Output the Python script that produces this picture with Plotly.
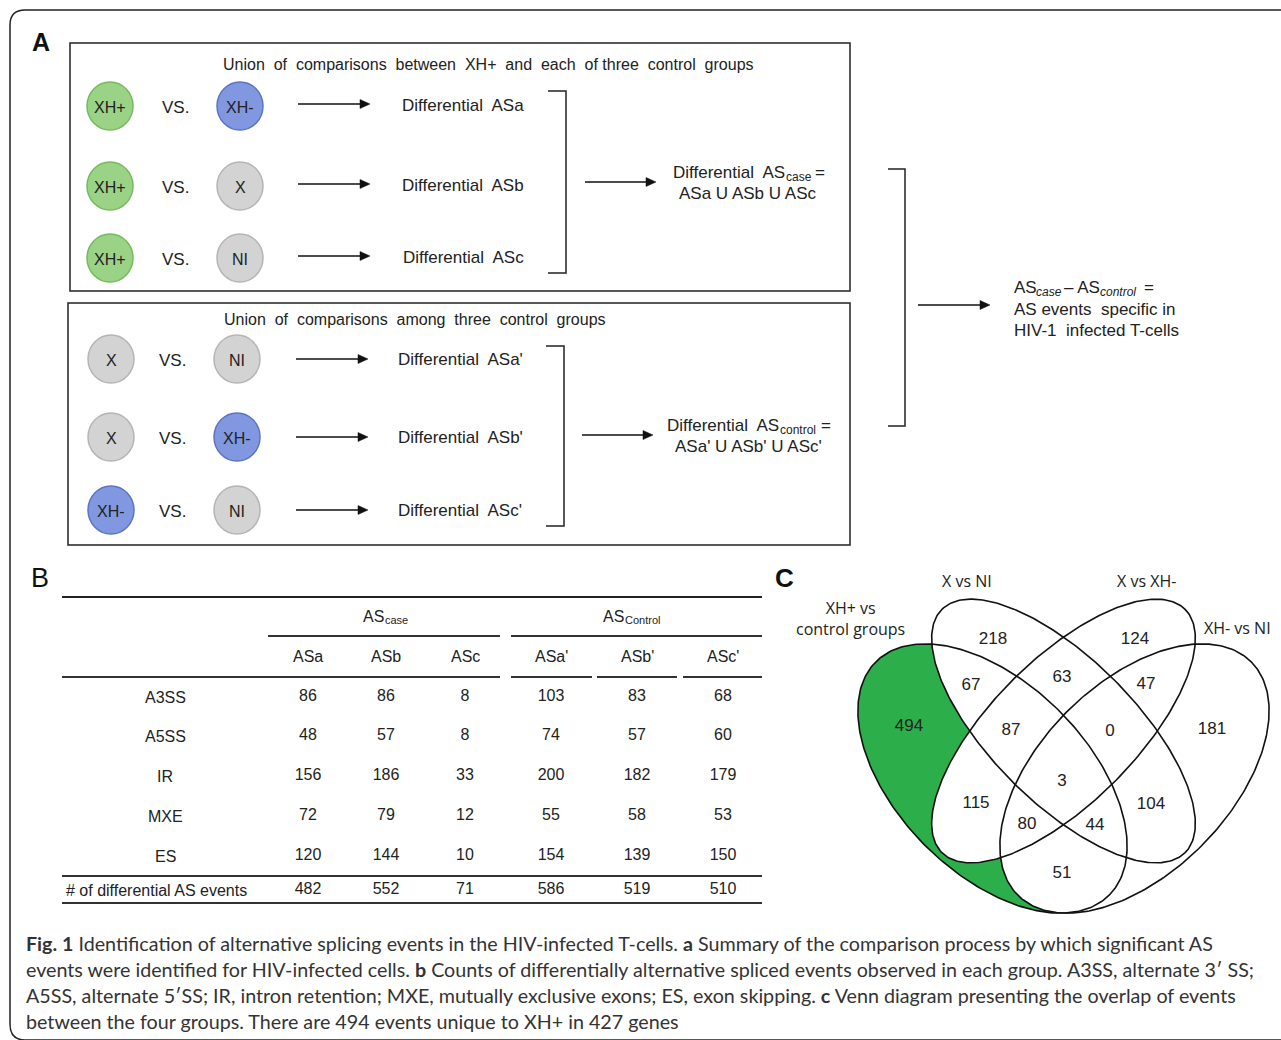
import numpy as np
import plotly.graph_objects as go

# ---------------- data ----------------
event_types = ["A3SS", "A5SS", "IR", "MXE", "ES"]
total_label = "# of differential AS events"
case_cols = ["ASa", "ASb", "ASc"]
control_cols = ["ASa'", "ASb'", "ASc'"]
asa = [86, 48, 156, 72, 120]
asb = [86, 57, 186, 79, 144]
asc = [8, 8, 33, 12, 10]
asa_p = [103, 74, 200, 55, 154]
asb_p = [83, 57, 182, 58, 139]
asc_p = [68, 60, 179, 53, 150]
totals = [482, 552, 71, 586, 519, 510]

venn_sets = ["XH+ vs<br>control groups", "X vs NI", "X vs XH-", "XH- vs NI"]
venn_regions = ["A", "B", "C", "D", "AB", "BC", "CD", "ABC", "BCD",
                "AC", "BD", "ABCD", "ACD", "ABD", "AD"]
venn_counts = [494, 218, 124, 181, 67, 63, 47, 87, 0, 115, 104, 3, 80, 44, 51]

# ---------------- layout helpers ----------------
W, H = 1281, 1040
FONT = "Liberation Sans, Arial, sans-serif"
TXT = "#222222"

fig = go.Figure()
shapes = []
annotations = []


def text(x, y, s, size=16, anchor="center", color=TXT, family=FONT, weight="normal", style="normal"):
    annotations.append(dict(x=x, y=y, xref="x", yref="y", text=s, showarrow=False,
                            xanchor=anchor, yanchor="middle", borderpad=0,
                            font=dict(size=size, color=color, family=family,
                                      weight=weight, style=style)))


def arrow(x0, x1, y):
    shapes.append(dict(type="line", x0=x0, y0=y, x1=x1 - 6, y1=y, xref="x", yref="y",
                       line=dict(color="#111111", width=1.5)))
    shapes.append(dict(type="path", path=f"M {x1},{y} L {x1-10},{y-4.5} L {x1-10},{y+4.5} Z",
                       xref="x", yref="y", fillcolor="#111111", line=dict(color="#111111", width=0.5)))


def line(x0, y0, x1, y1, w=1.8, c="#333333"):
    shapes.append(dict(type="line", x0=x0, y0=y0, x1=x1, y1=y1, xref="x", yref="y",
                       line=dict(color=c, width=w)))


def path(p, w=1.5, c="#222222"):
    shapes.append(dict(type="path", path=p, xref="x", yref="y", line=dict(color=c, width=w)))


COL = {
    "g": ("#9ad386", "#74bb5d"),
    "b": ("#8198e0", "#5a74c6"),
    "x": ("#d3d3d3", "#b5b5b5"),
}


def node(cx, cy, label, kind):
    fill, edge = COL[kind]
    shapes.append(dict(type="circle", x0=cx - 23, x1=cx + 23, y0=cy - 24, y1=cy + 24,
                       xref="x", yref="y", fillcolor=fill, line=dict(color=edge, width=1.5)))
    text(cx, cy + 1, label, size=16)


# ---------------- outer frame ----------------
path("M 1295,10 H 25 Q 10,10 10,25 V 1024 Q 10,1040 25,1040 H 1295", w=1.5, c="#222222")

# ---------------- panel A ----------------
text(41, 42, "A", size=25, color="#111111", weight="bold")
shapes.append(dict(type="rect", x0=70, y0=43, x1=850, y1=291, xref="x", yref="y",
                   line=dict(color="#222222", width=1.5)))
shapes.append(dict(type="rect", x0=68, y0=303, x1=850, y1=545, xref="x", yref="y",
                   line=dict(color="#222222", width=1.5)))

text(488, 64, "Union  of  comparisons  between  XH+  and  each  of three  control  groups", size=16)
text(415, 319, "Union  of  comparisons  among  three  control  groups", size=16)

rows1 = [106, 186, 258]
pairs1 = [("XH+", "g", "XH-", "b"), ("XH+", "g", "X", "x"), ("XH+", "g", "NI", "x")]
outs1 = ["Differential  ASa", "Differential  ASb", "Differential  ASc"]
for yy, (l1, k1, l2, k2), o in zip(rows1, pairs1, outs1):
    node(110, yy, l1, k1)
    node(240, yy, l2, k2)
    text(175, yy + 1, "VS.", size=17)
    arrow(298, 370, yy - 2)
    text(463, yy - 1, o, size=17)
path("M 548,91 H 566 V 273 H 548")
arrow(585, 656, 182)
text(786, 172, "Differential  AS", size=17, anchor="right")
text(785, 177, "case", size=12, anchor="left")
text(814, 172, "=", size=17, anchor="left")
text(748, 193, "ASa U ASb U ASc", size=17)

rows2 = [359, 437, 510]
pairs2 = [("X", "x", "NI", "x"), ("X", "x", "XH-", "b"), ("XH-", "b", "NI", "x")]
outs2 = ["Differential  ASa'", "Differential  ASb'", "Differential  ASc'"]
for yy, (l1, k1, l2, k2), o in zip(rows2, pairs2, outs2):
    node(111, yy, l1, k1)
    node(237, yy, l2, k2)
    text(172, yy + 1, "VS.", size=17)
    arrow(296, 368, yy)
    text(460, yy, o, size=17)
path("M 546,346 H 564 V 526 H 546")
arrow(582, 653, 435)
text(780, 425, "Differential  AS", size=17, anchor="right")
text(779, 430, "control", size=12, anchor="left")
text(820, 425, "=", size=17, anchor="left")
text(748, 446, "ASa' U ASb' U ASc'", size=17)

path("M 888,169 H 905 V 426 H 888")
arrow(918, 990, 305)
text(1013, 287, "AS", size=17, anchor="left")
text(1035, 292, "case", size=12, anchor="left", style="italic")
text(1063, 287, "– AS", size=17, anchor="left")
text(1099, 292, "control", size=12, anchor="left", style="italic")
text(1143, 287, "=", size=17, anchor="left")
text(1013, 309, "AS events  specific in", size=17, anchor="left")
text(1013, 330, "HIV-1  infected T-cells", size=17, anchor="left")

# ---------------- panel B (table) ----------------
text(40, 578, "B", size=27, color="#111111")
line(62, 597, 762, 597, w=2, c="#222222")
text(385, 616, "AS", size=16, anchor="right")
text(384, 620, "case", size=11, anchor="left")
text(625, 616, "AS", size=16, anchor="right")
text(624, 620, "Control", size=11, anchor="left")
line(268, 636, 500, 636)
line(511, 636, 762, 636)
col_x = [308, 386, 465, 551, 637, 723]
for cx, cname in zip(col_x, case_cols + control_cols):
    text(cx, 656, cname, size=16)
for x0, x1 in [(62, 500), (511, 592), (597, 677), (683, 762)]:
    line(x0, 677, x1, 677)
row_y = [697, 736, 776, 816, 856]
for ry, et in zip(row_y, event_types):
    text(165, ry, et, size=16)
line(62, 876, 762, 876, w=2.2)
text(65, 890, total_label, size=16, anchor="left")
line(62, 903, 762, 903, w=2)

table_cols = [asa, asb, asc, asa_p, asb_p, asc_p]
tx, ty, tt = [], [], []
for cx, vals, tot in zip(col_x, table_cols, totals):
    for ry, v in zip(row_y, vals):
        tx.append(cx); ty.append(ry); tt.append(str(v))
    tx.append(cx); ty.append(890); tt.append(str(tot))
fig.add_trace(go.Scatter(x=tx, y=ty, text=tt, mode="text", hoverinfo="skip",
                         textfont=dict(size=16, color=TXT, family=FONT), showlegend=False))

# ---------------- panel C (Venn) ----------------
text(784, 578, "C", size=26, color="#111111", weight="bold")
set_label_pos = [(850, 618), (967, 581), (1146, 581), (1237, 628)]
for (lx, ly), lab in zip(set_label_pos, venn_sets):
    text(lx, ly, lab, size=16, family="Open Sans, Liberation Sans, sans-serif")

ell = {
    "A": (992.5, 778.5, 165, 95, 45),
    "B": (1063.5, 731, 172, 72, 45),
    "C": (1063.5, 731, 172, 72, -45),
    "D": (1134.5, 778.5, 165, 95, -45),
}


def ellipse_pts(cx, cy, a, b, deg, n=300):
    t = np.linspace(0, 2 * np.pi, n)
    th = np.radians(deg)
    x = cx + a * np.cos(t) * np.cos(th) - b * np.sin(t) * np.sin(th)
    y = cy + a * np.cos(t) * np.sin(th) + b * np.sin(t) * np.cos(th)
    return x, y


ax_, ay_ = ellipse_pts(*ell["A"])
fig.add_trace(go.Scatter(x=ax_, y=ay_, mode="lines", fill="toself", fillcolor="#2cae4a",
                         line=dict(width=0), hoverinfo="skip", showlegend=False))
for k in ["B", "C", "D"]:
    ex, ey = ellipse_pts(*ell[k])
    fig.add_trace(go.Scatter(x=ex, y=ey, mode="lines", fill="toself", fillcolor="white",
                             line=dict(width=0), hoverinfo="skip", showlegend=False))
for k in ["A", "B", "C", "D"]:
    ex, ey = ellipse_pts(*ell[k])
    fig.add_trace(go.Scatter(x=ex, y=ey, mode="lines", line=dict(color="#111111", width=1.6),
                             hoverinfo="skip", showlegend=False))

region_pos = {"A": (909, 727), "B": (993, 640), "C": (1135, 640), "D": (1212, 730),
              "AB": (971, 686), "BC": (1062, 678), "CD": (1146, 685), "ABC": (1011, 731),
              "BCD": (1110, 732), "AC": (976, 804), "BD": (1151, 805), "ABCD": (1062, 782),
              "ACD": (1027, 825), "ABD": (1095, 826), "AD": (1062, 874)}
vx = [region_pos[r][0] for r in venn_regions]
vy = [region_pos[r][1] for r in venn_regions]
fig.add_trace(go.Scatter(x=vx, y=vy, text=[str(c) for c in venn_counts], mode="text",
                         hoverinfo="skip", showlegend=False,
                         textfont=dict(size=17, color="#222222", family=FONT)))

# ---------------- caption ----------------
CAP = "Lato, Noto Sans, sans-serif"
CS = 19.7


def bold(s):
    return f'<span style="font-weight:bold;font-size:{CS}px">{s}</span>'


cap_lines = [
    bold("Fig. 1") + " Identification of alternative splicing events in the HIV-infected T-cells. " + bold("a")
    + " Summary of the comparison process by which significant AS",
    "events were identified for HIV-infected cells. " + bold("b")
    + " Counts of differentially alternative spliced events observed in each group. A3SS, alternate 3′ SS;",
    "A5SS, alternate 5′SS; IR, intron retention; MXE, mutually exclusive exons; ES, exon skipping. " + bold("c")
    + " Venn diagram presenting the overlap of events",
    "between the four groups. There are 494 events unique to XH+ in 427 genes",
]
for i, s in enumerate(cap_lines):
    text(25, 943 + i * 26.3, s, size=CS, anchor="left", color="#333333", family=CAP)

fig.update_layout(
    width=W, height=H, margin=dict(l=0, r=0, t=0, b=0),
    paper_bgcolor="white", plot_bgcolor="white",
    xaxis=dict(range=[0, W], visible=False, fixedrange=True),
    yaxis=dict(range=[H, 0], visible=False, fixedrange=True),
    shapes=shapes, annotations=annotations, showlegend=False,
)

fig.write_html("out.html", config={"displayModeBar": False},
               post_script="document.body.style.margin='0';document.body.style.overflow='hidden';")
